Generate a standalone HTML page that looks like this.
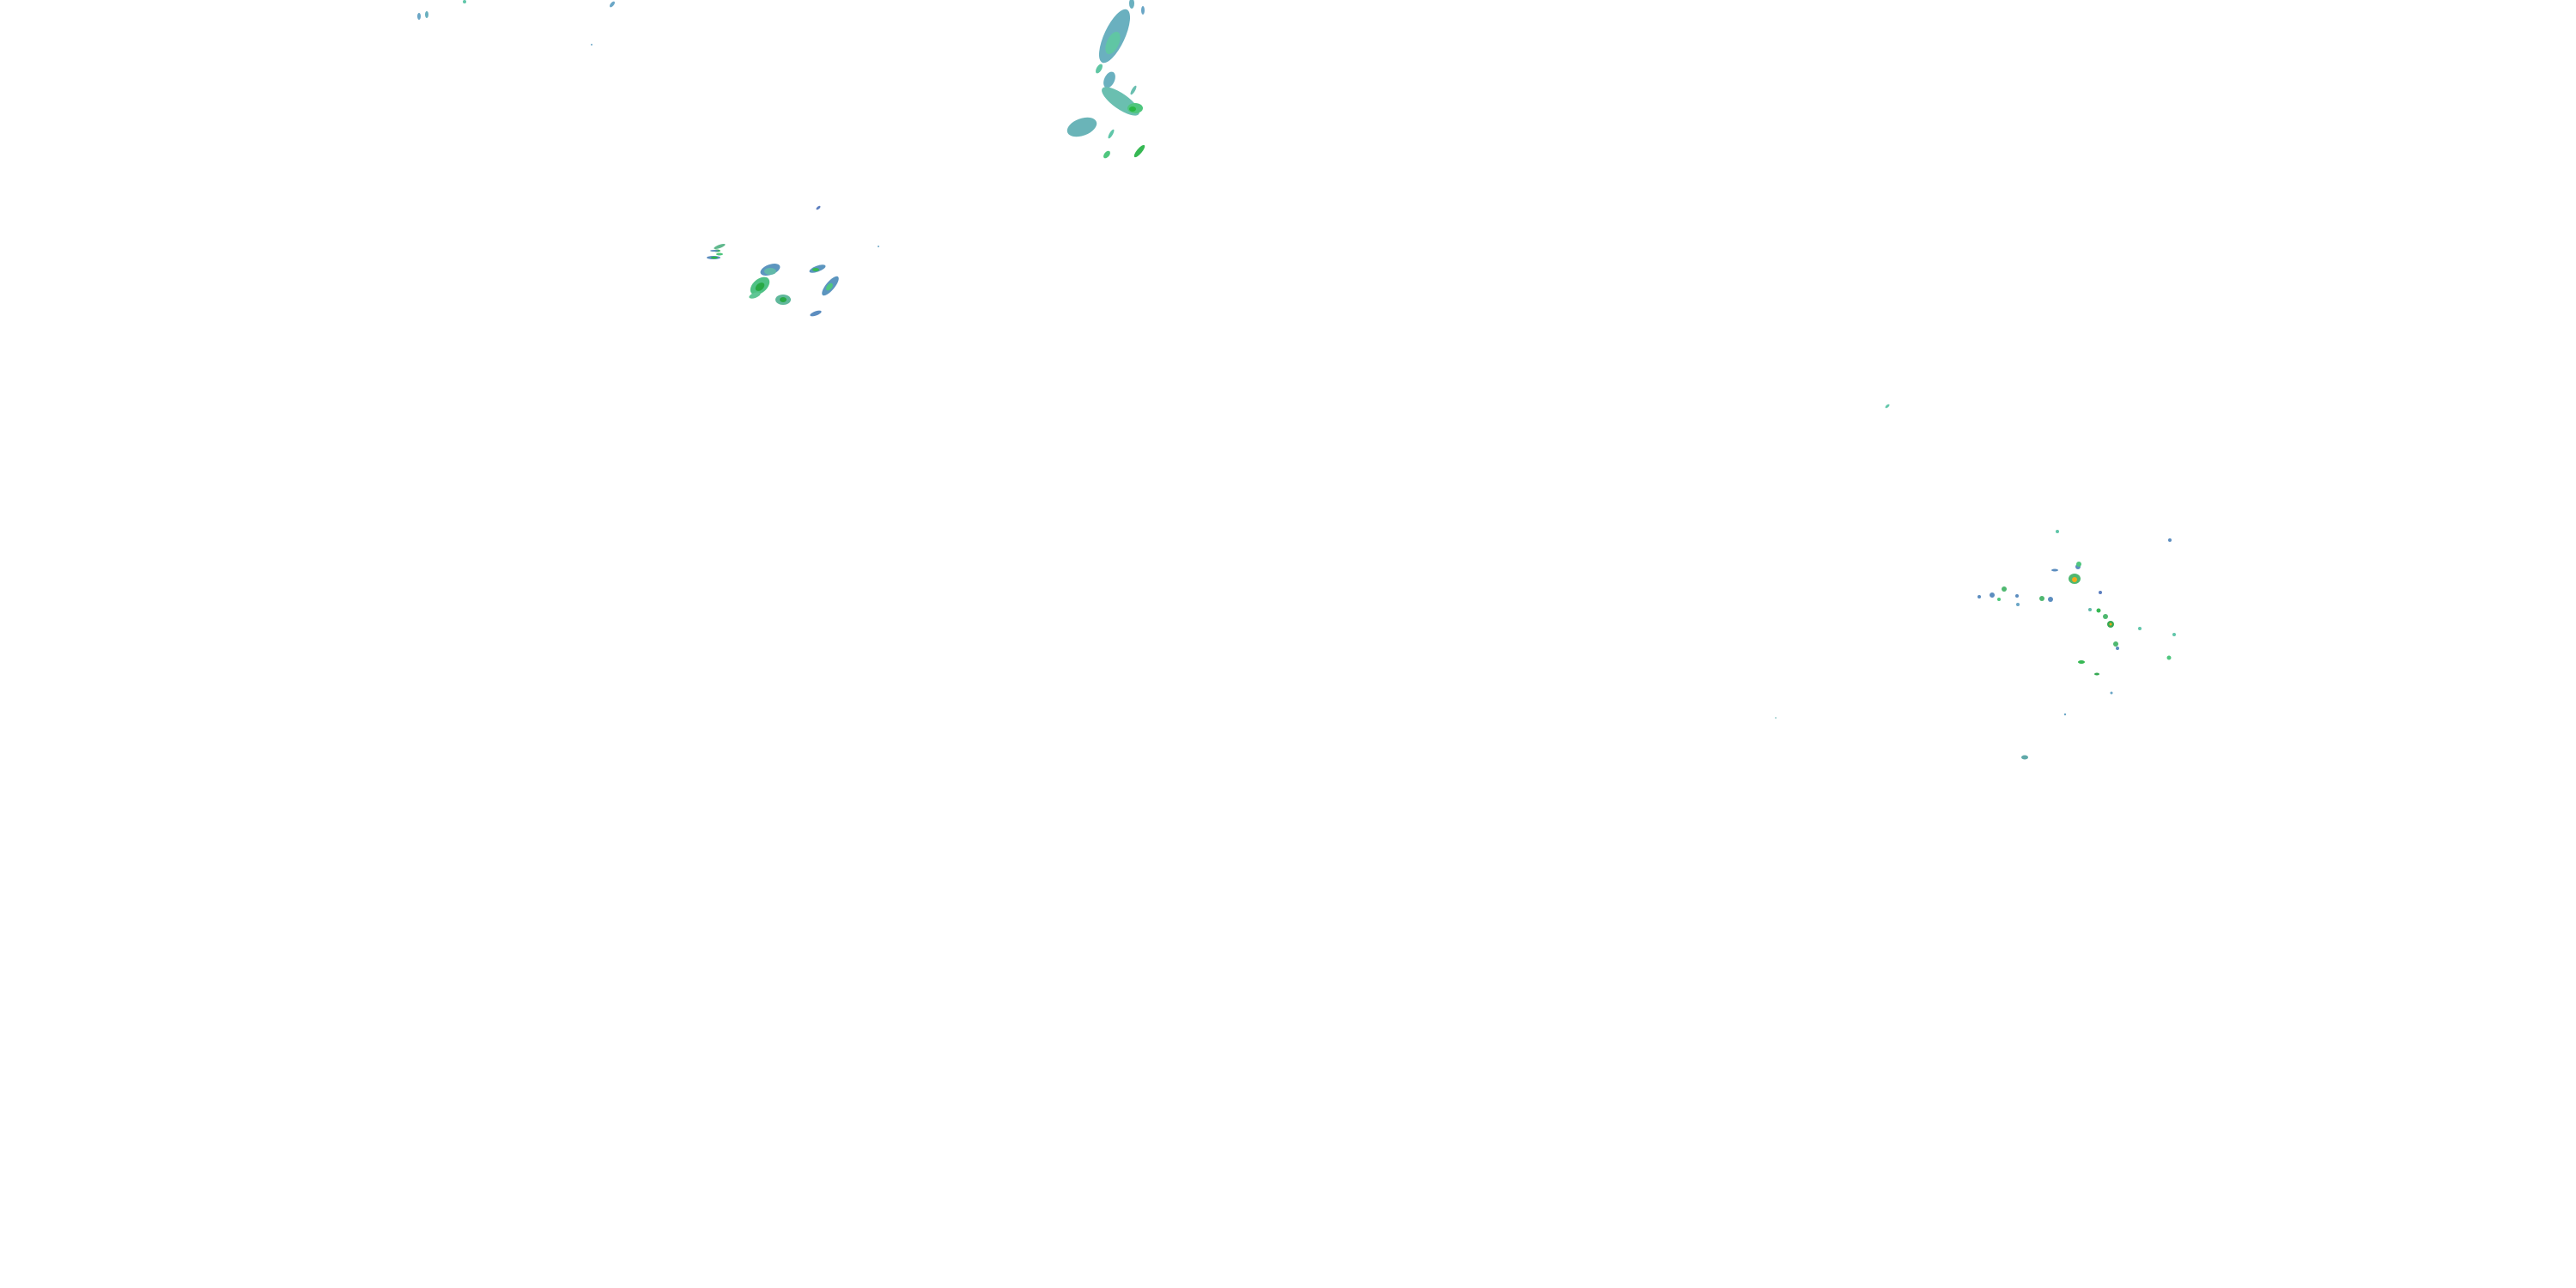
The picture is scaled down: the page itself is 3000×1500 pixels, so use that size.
<!DOCTYPE html>
<html><head><meta charset="utf-8"><style>html,body{margin:0;padding:0;background:#fff;width:3000px;height:1500px;overflow:hidden}</style></head>
<body>
<svg width="3000" height="1500" viewBox="0 0 3000 1500" xmlns="http://www.w3.org/2000/svg">
<g opacity="0.9">
<!-- top cluster -->
<ellipse cx="1298" cy="42" rx="12" ry="34" transform="rotate(25 1298 42)" fill="#5aa8b8"/>
<ellipse cx="1296" cy="50" rx="7" ry="14" transform="rotate(25 1296 50)" fill="#4fc09a"/>
<ellipse cx="1318" cy="4" rx="3" ry="6" fill="#5aa8b8"/>
<ellipse cx="1331" cy="12" rx="2" ry="5" fill="#5a9cc0"/>
<ellipse cx="1280" cy="80" rx="3" ry="6" transform="rotate(30 1280 80)" fill="#4fc09a"/>
<ellipse cx="1292" cy="93" rx="6" ry="10" transform="rotate(25 1292 93)" fill="#5aa8b8"/>
<ellipse cx="1305" cy="118" rx="26" ry="9" transform="rotate(35 1305 118)" fill="#5ab8a8"/>
<ellipse cx="1322" cy="126" rx="9" ry="6" fill="#3cc070"/>
<ellipse cx="1319" cy="127" rx="4" ry="3" fill="#10b030"/>
<ellipse cx="1320" cy="105" rx="2" ry="6" transform="rotate(30 1320 105)" fill="#5ab8a8"/>
<ellipse cx="1260" cy="148" rx="18" ry="10" transform="rotate(-20 1260 148)" fill="#5aacb0"/>
<ellipse cx="1294" cy="156" rx="2" ry="6" transform="rotate(30 1294 156)" fill="#4fc0a0"/>
<ellipse cx="1289" cy="180" rx="3" ry="5" transform="rotate(40 1289 180)" fill="#3cc070"/>
<ellipse cx="1327" cy="176" rx="3" ry="9" transform="rotate(40 1327 176)" fill="#20b040"/>
<ellipse cx="488" cy="19" rx="2" ry="4" fill="#5a9cc0"/>
<ellipse cx="497" cy="17" rx="2" ry="4" fill="#5aa8b8"/>
<ellipse cx="541" cy="2" rx="2" ry="2" fill="#4fc0a0"/>
<ellipse cx="713" cy="5" rx="2" ry="4" transform="rotate(40 713 5)" fill="#5a9cc0"/>
<circle cx="689" cy="52" r="1" fill="#5a9cc0"/>
<!-- middle-left cluster -->
<ellipse cx="953" cy="242" rx="3" ry="1.5" transform="rotate(-40 953 242)" fill="#4a70b8"/>
<ellipse cx="838" cy="287" rx="7" ry="2" transform="rotate(-20 838 287)" fill="#4fb080"/>
<ellipse cx="835" cy="292" rx="4" ry="1.5" fill="#20b040"/>
<ellipse cx="832" cy="292" rx="5" ry="1" fill="#4a80b8"/>
<ellipse cx="838" cy="296" rx="4" ry="1.5" fill="#3cc070"/>
<ellipse cx="831" cy="300" rx="8" ry="2" fill="#4a80b8"/>
<ellipse cx="832" cy="300" rx="4" ry="1.2" fill="#10b030"/>
<ellipse cx="897" cy="314" rx="12" ry="6" transform="rotate(-20 897 314)" fill="#4a8ab8"/>
<ellipse cx="897" cy="316" rx="7" ry="4" fill="#50b0a0"/>
<ellipse cx="885" cy="333" rx="13" ry="8" transform="rotate(-40 885 333)" fill="#3cba78"/>
<ellipse cx="885" cy="334" rx="6" ry="4" transform="rotate(-40 885 334)" fill="#10a030"/>
<ellipse cx="879" cy="344" rx="7" ry="3" transform="rotate(-20 879 344)" fill="#4fc08a"/>
<ellipse cx="912" cy="349" rx="9" ry="6" fill="#4fb090"/>
<ellipse cx="912" cy="349" rx="4" ry="3" fill="#10a030"/>
<ellipse cx="952" cy="313" rx="10" ry="3.5" transform="rotate(-20 952 313)" fill="#4a8ab8"/>
<ellipse cx="950" cy="314" rx="4" ry="2" fill="#20b040"/>
<ellipse cx="967" cy="333" rx="14" ry="5" transform="rotate(-50 967 333)" fill="#4a8ab8"/>
<ellipse cx="966" cy="334" rx="5" ry="3" transform="rotate(-50 966 334)" fill="#3cc070"/>
<ellipse cx="950" cy="365" rx="7" ry="2.5" transform="rotate(-20 950 365)" fill="#4a80b8"/>
<circle cx="1023" cy="287" r="1" fill="#5a9cc0"/>
<!-- right cluster -->
<ellipse cx="2198" cy="473" rx="3" ry="1.5" transform="rotate(-40 2198 473)" fill="#4fc0a0"/>
<circle cx="2396" cy="619" r="2" fill="#4fc0a0"/>
<ellipse cx="2416" cy="674" rx="7" ry="6" fill="#3cb060"/>
<circle cx="2416" cy="675" r="3" fill="#f0a000"/>
<circle cx="2420" cy="660" r="3" fill="#4a80b8"/>
<circle cx="2421" cy="659" r="3" fill="#3cc070" transform="translate(0 -2)"/>
<ellipse cx="2393" cy="664" rx="4" ry="1.5" fill="#4a80b8"/>
<circle cx="2334" cy="686" r="3" fill="#3cb060"/>
<circle cx="2320" cy="693" r="3" fill="#4a80b8"/>
<circle cx="2328" cy="698" r="2" fill="#3cc070"/>
<circle cx="2305" cy="695" r="2" fill="#4a80b8"/>
<circle cx="2349" cy="694" r="2" fill="#4a80b8"/>
<circle cx="2378" cy="697" r="3" fill="#3cb060"/>
<circle cx="2388" cy="698" r="3" fill="#4a80b8"/>
<circle cx="2350" cy="704" r="2" fill="#5a9cc0"/>
<circle cx="2446" cy="690" r="2" fill="#4a70b8"/>
<circle cx="2434" cy="710" r="2" fill="#50b0a0"/>
<circle cx="2444" cy="711" r="2.5" fill="#20b040"/>
<circle cx="2452" cy="718" r="3" fill="#3cb060"/>
<circle cx="2458" cy="727" r="2" fill="#4fc0a0"/>
<circle cx="2458" cy="727" r="4" fill="#20a040"/>
<circle cx="2458" cy="727" r="1.5" fill="#f0a000"/>
<circle cx="2464" cy="750" r="3" fill="#3cb060"/>
<circle cx="2466" cy="755" r="2" fill="#4a80b8"/>
<circle cx="2492" cy="732" r="2" fill="#4fc0a0"/>
<circle cx="2532" cy="739" r="2" fill="#4fc0a0"/>
<circle cx="2527" cy="629" r="2" fill="#4a80b8"/>
<circle cx="2526" cy="766" r="2.5" fill="#3cc070"/>
<ellipse cx="2424" cy="771" rx="4" ry="2" fill="#20b040"/>
<ellipse cx="2442" cy="785" rx="3" ry="1.5" fill="#20a040"/>
<circle cx="2459" cy="807" r="1.5" fill="#5a9cc0"/>
<circle cx="2405" cy="832" r="1.2" fill="#5a9cc0"/>
<ellipse cx="2358" cy="882" rx="4" ry="2.5" fill="#4fa0a0"/>
<circle cx="2068" cy="836" r="1" fill="#9cc"/>
</g>
</svg>
</body></html>
